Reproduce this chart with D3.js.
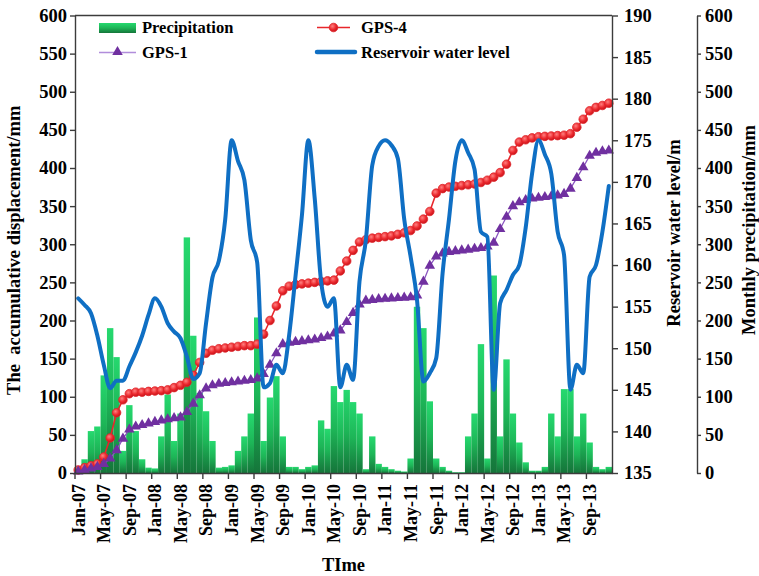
<!DOCTYPE html>
<html>
<head>
<meta charset="utf-8">
<script src="https://cdn.jsdelivr.net/npm/d3@7"></script>
<style>
  html, body { margin: 0; padding: 0; background: #ffffff; }
  svg { display: block; font-family: "Liberation Serif", "Times New Roman", serif; font-weight: bold; }
</style>
</head>
<body>
<svg id="chart" width="759" height="576"></svg>
<script>
// ---- categories: one entry per month, Jan-07 .. Dec-13 ----
const monthNames = ["Jan","Feb","Mar","Apr","May","Jun","Jul","Aug","Sep","Oct","Nov","Dec"];
const years = ["07","08","09","10","11","12","13"];
const months = years.flatMap(y => monthNames.map(m => `${m}-${y}`));

// labelled months on the time axis
const timeTicks = ["Jan-07","May-07","Sep-07","Jan-08","May-08","Sep-08","Jan-09","May-09","Sep-09",
  "Jan-10","May-10","Sep-10","Jan-11","May-11","Sep-11","Jan-12","May-12","Sep-12",
  "Jan-13","May-13","Sep-13"];

// axis tick values
const displacementTicks = [0,50,100,150,200,250,300,350,400,450,500,550,600];
const levelTicks = [135,140,145,150,155,160,165,170,175,180,185,190];
const precipTicks = [0,50,100,150,200,250,300,350,400,450,500,550,600];

// ---- series values ----
// monthly precipitation (mm)
const precipitation = [
  5, 18, 55, 61, 128, 190, 152, 29, 89, 55, 18, 7,
  6, 48, 103, 42, 78, 309, 180, 105, 81, 42, 7, 8,
  10, 29, 48, 78, 204, 42, 99, 127, 48, 8, 8, 5,
  8, 10, 69, 58, 114, 93, 109, 93, 78, 5, 48, 12,
  8, 5, 3, 2, 19, 218, 190, 94, 19, 8, 3, 1,
  1, 48, 78, 169, 19, 259, 48, 149, 78, 40, 14, 3,
  3, 8, 78, 48, 110, 110, 48, 78, 40, 8, 5, 8
];

// reservoir water level (m)
const reservoirLevel = [
  156, 155.2, 154.2, 151.5, 148, 145.2, 146.1, 146.1, 147.8, 149.5, 151.5, 154,
  156, 155, 153, 152, 151.2, 149, 146.3, 147, 153, 158.5, 160.5, 165.5,
  175, 172.5, 170.2, 163, 160.3, 145.3, 145.8, 148, 147, 151.6, 158.7, 166,
  175, 168, 158, 155, 156, 145.3, 148, 146.2, 158, 163, 172, 174.3,
  175, 174.4, 172.8, 165.5, 161, 155.8, 146, 147, 148.8, 159, 165.5, 172.5,
  175, 173.5, 171.5, 164, 163.4, 145, 155.4, 157, 158.8, 160, 164.5, 171,
  175, 173.3, 171, 164, 161.2, 145, 148, 147, 158.6, 160, 164, 169.5
];

// accumulative displacement of GPS-4 (mm)
const gps4 = [
  4, 7, 9.5, 12, 21, 46, 79, 96, 104, 106, 106, 107,
  107.5, 108, 109, 112, 115, 119, 128, 145, 157, 161, 163, 164,
  165, 166, 167, 167, 169, 182, 200, 219, 239, 245, 247, 248,
  249, 250, 251, 252, 253, 265, 278, 292, 303, 306, 308, 309,
  310, 311, 313, 315, 318, 324, 333, 343, 367, 373, 375, 376,
  377, 378, 379, 381, 384, 388, 394, 405, 423, 434, 437, 439.5,
  441, 441.5, 442, 442.5, 443, 445, 453.5, 464, 475, 479.5, 482, 485
];

// accumulative displacement of GPS-1 (mm)
const gps1 = [
  2, 4, 6, 8, 12, 19, 30, 45, 57, 61, 63, 65,
  67, 69, 70.5, 72, 73, 80, 91, 102, 111, 115, 117, 118,
  119, 120, 121, 122, 124, 130, 142, 157, 169, 171, 172, 173,
  174, 175, 177, 179, 183, 187, 198, 210, 221, 226, 227, 228,
  228.5, 229, 229.5, 230, 230.5, 233, 251, 272, 284, 288, 290, 291,
  292, 293, 294, 295, 297, 302, 320, 336, 350, 355, 358, 360,
  361, 362, 363, 364, 366, 373, 387, 401, 416, 420, 422, 423
];

// ---- layout ----
const plot = { left: 75, right: 612, top: 15.5, bottom: 473 };
const precipAxisX = 697;
const axisColor = "#3c3c3c";

const svg = d3.select("#chart");

const x = d3.scaleBand().domain(months).range([plot.left, plot.right]).padding(0);
const yDisp = d3.scaleLinear().domain([0, 600]).range([plot.bottom, plot.top]);
const yLevel = d3.scaleLinear().domain([135, 190]).range([plot.bottom, plot.top]);
const yPrecip = d3.scaleLinear().domain([0, 600]).range([plot.bottom, plot.top]);
const cx = m => x(m) + x.bandwidth() / 2;

// ---- gradients ----
const defs = svg.append("defs");
const barGrad = defs.append("linearGradient")
  .attr("id", "barGrad").attr("x1", 0).attr("y1", 0).attr("x2", 0).attr("y2", 1);
barGrad.append("stop").attr("offset", "0%").attr("stop-color", "#26d96f");
barGrad.append("stop").attr("offset", "50%").attr("stop-color", "#1db557");
barGrad.append("stop").attr("offset", "100%").attr("stop-color", "#15753a");

const dotGrad = defs.append("radialGradient")
  .attr("id", "dotGrad").attr("cx", "38%").attr("cy", "35%").attr("r", "65%");
dotGrad.append("stop").attr("offset", "0%").attr("stop-color", "#ff8080");
dotGrad.append("stop").attr("offset", "60%").attr("stop-color", "#ec2a2f");
dotGrad.append("stop").attr("offset", "100%").attr("stop-color", "#c8141b");

// ---- precipitation bars ----
svg.append("g").selectAll("rect")
  .data(precipitation)
  .join("rect")
  .attr("x", (d, i) => x(months[i]))
  .attr("y", d => yPrecip(d))
  .attr("width", x.bandwidth())
  .attr("height", d => yPrecip(0) - yPrecip(d))
  .attr("fill", "url(#barGrad)");

// ---- GPS-4 ----
const dispLine = d3.line().x((d, i) => cx(months[i])).y(d => yDisp(d));
svg.append("path").datum(gps4)
  .attr("d", dispLine).attr("fill", "none")
  .attr("stroke", "#e8262b").attr("stroke-width", 1.6);
svg.append("g").selectAll("circle")
  .data(gps4).join("circle")
  .attr("cx", (d, i) => cx(months[i]))
  .attr("cy", d => yDisp(d))
  .attr("r", 4.3)
  .attr("fill", "url(#dotGrad)")
  .attr("stroke", "#e0262b").attr("stroke-width", 0.8);

// ---- GPS-1 ----
const tri = d3.symbol().type(d3.symbolTriangle).size(48);
svg.append("path").datum(gps1)
  .attr("d", dispLine).attr("fill", "none")
  .attr("stroke", "#8a55c0").attr("stroke-width", 1.3);
svg.append("g").selectAll("path")
  .data(gps1).join("path")
  .attr("transform", (d, i) => `translate(${cx(months[i])},${yDisp(d)})`)
  .attr("d", tri)
  .attr("fill", "#7030a0");

// ---- reservoir water level ----
const levelLine = d3.line()
  .x((d, i) => cx(months[i]))
  .y(d => yLevel(d))
  .curve(d3.curveMonotoneX);
svg.append("path").datum(reservoirLevel)
  .attr("d", levelLine).attr("fill", "none")
  .attr("stroke", "#0f6fc4").attr("stroke-width", 4)
  .attr("stroke-linejoin", "round").attr("stroke-linecap", "round");

// ---- axes ----
function styleAxis(g, fontSize) {
  g.select(".domain").attr("stroke", axisColor).attr("stroke-width", 1.4);
  g.selectAll(".tick line").attr("stroke", axisColor).attr("stroke-width", 1.4);
  g.selectAll(".tick text")
    .attr("fill", "#000")
    .style("font-size", fontSize + "px")
    .style("font-weight", "bold")
    .style("font-family", '"Liberation Serif", "Times New Roman", serif');
}

// frame top edge
svg.append("line")
  .attr("x1", plot.left).attr("x2", plot.right)
  .attr("y1", plot.top).attr("y2", plot.top)
  .attr("stroke", axisColor).attr("stroke-width", 1.4);

// left: displacement
svg.append("g")
  .attr("transform", `translate(${plot.left},0)`)
  .call(d3.axisLeft(yDisp).tickValues(displacementTicks).tickSize(5).tickSizeOuter(0).tickPadding(3))
  .call(g => styleAxis(g, 18.5));

// right: reservoir level
svg.append("g")
  .attr("transform", `translate(${plot.right},0)`)
  .call(d3.axisRight(yLevel).tickValues(levelTicks).tickSize(6).tickSizeOuter(0).tickPadding(6))
  .call(g => styleAxis(g, 18.5));

// far right: monthly precipitation
svg.append("g")
  .attr("transform", `translate(${precipAxisX},0)`)
  .call(d3.axisRight(yPrecip).tickValues(precipTicks).tickSize(4).tickSizeOuter(0).tickPadding(4))
  .call(g => styleAxis(g, 18.5));

// bottom: time
const xAxis = svg.append("g")
  .attr("transform", `translate(0,${plot.bottom})`)
  .call(d3.axisBottom(x).tickValues(timeTicks).tickSize(6).tickSizeOuter(0))
  .call(g => styleAxis(g, 18));
xAxis.selectAll(".tick line")
  .attr("x1", -x.bandwidth() / 2).attr("x2", -x.bandwidth() / 2);
xAxis.selectAll(".tick text")
  .attr("transform", "rotate(-90)")
  .attr("x", -11).attr("y", 0).attr("dy", "0.35em")
  .style("text-anchor", "end");

// ---- axis titles ----
const titleStyle = s => s.attr("fill", "#000").style("font-size", "18.5px").style("font-weight", "bold");
svg.append("text")
  .attr("transform", `translate(20,${(plot.top + plot.bottom) / 2 + 6}) rotate(-90)`)
  .attr("text-anchor", "middle").attr("xml:space", "preserve")
  .text("The  accumulative displacement/mm").call(titleStyle);
svg.append("text")
  .attr("transform", `translate(680,233) rotate(-90)`)
  .attr("text-anchor", "middle")
  .text("Reservoir water level/m").call(titleStyle);
svg.append("text")
  .attr("transform", `translate(755,230) rotate(-90)`)
  .attr("text-anchor", "middle")
  .text("Monthly precipitation/mm").call(titleStyle);
svg.append("text")
  .attr("x", (plot.left + plot.right) / 2).attr("y", 571)
  .attr("text-anchor", "middle")
  .text("TIme").call(titleStyle);

// ---- legend ----
const legend = svg.append("g").style("font-size", "16.5px");
// Precipitation
legend.append("rect").attr("x", 99).attr("y", 23).attr("width", 37).attr("height", 10)
  .attr("fill", "url(#barGrad)");
legend.append("text").attr("x", 142).attr("y", 33).text("Precipitation");
// GPS-1
legend.append("line").attr("x1", 99).attr("x2", 136).attr("y1", 52.5).attr("y2", 52.5)
  .attr("stroke", "#b18ddb").attr("stroke-width", 1.6);
legend.append("path").attr("transform", "translate(117.5,52)").attr("d", tri).attr("fill", "#7030a0");
legend.append("text").attr("x", 142).attr("y", 58).text("GPS-1");
// GPS-4
legend.append("line").attr("x1", 317).attr("x2", 350).attr("y1", 27.5).attr("y2", 27.5)
  .attr("stroke", "#e8262b").attr("stroke-width", 1.6);
legend.append("circle").attr("cx", 333.5).attr("cy", 27.5).attr("r", 4.3)
  .attr("fill", "url(#dotGrad)").attr("stroke", "#e0262b").attr("stroke-width", 0.8);
legend.append("text").attr("x", 361).attr("y", 33).text("GPS-4");
// Reservoir water level
legend.append("line").attr("x1", 317).attr("x2", 355).attr("y1", 52).attr("y2", 52)
  .attr("stroke", "#0f6fc4").attr("stroke-width", 4.5).attr("stroke-linecap", "round");
legend.append("text").attr("x", 361).attr("y", 58).text("Reservoir water level");
</script>
</body>
</html>
